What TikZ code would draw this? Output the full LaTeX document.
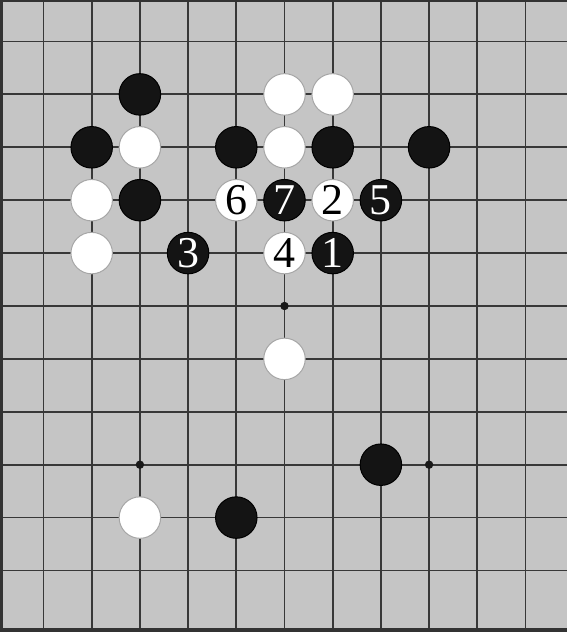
\documentclass[tikz,border=0pt]{standalone}
\usepackage{fontspec}
\setmainfont{Liberation Serif}
\definecolor{boardgray}{HTML}{C5C5C5}
\definecolor{linegray}{HTML}{383838}
\definecolor{framegray}{HTML}{333333}
\tikzset{
  gridline/.style={line width=1.8pt, linegray},
  stone/.style={circle, minimum size=41.5pt, inner sep=0pt, font=\fontsize{44}{44}\selectfont},
  blackstone/.style={stone, fill=black!92, draw=black, line width=1pt, text=white},
  whitestone/.style={stone, fill=white, draw=gray!70, line width=1pt, text=black},
}
\begin{document}
\begin{tikzpicture}[x=48.2pt, y=-52.9pt]
    % Board corners
    \coordinate (tl) at (-0.9025,-0.7845);
    \coordinate (tr) at (10.861,-0.7845);
    \coordinate (bl) at (-0.9025,11.163);
    \coordinate (br) at (10.861,11.163);
    \useasboundingbox (tl) rectangle (br);
    \fill[boardgray] (tl) rectangle (br);

    % Grid lines
    \foreach \c in {0,...,10} \draw[gridline] (\c,-0.7845) -- (\c,11.163);
    \foreach \r in {0,...,10} \draw[gridline] (-0.9025,\r) -- (10.861,\r);

    % Frame (left, top, bottom)
    \draw[framegray, line width=3pt] ([xshift=1.5pt]bl) -- ([xshift=1.5pt]tl);
    \draw[framegray, line width=2pt] ([yshift=-1pt]tl) -- ([yshift=-1pt]tr);
    \draw[framegray, line width=4pt] ([yshift=2pt]bl) -- ([yshift=2pt]br);

    % Star points
    \fill[black!90] (5,5) circle (4.2pt);
    \fill[black!90] (2,8) circle (4.2pt);
    \fill[black!90] (8,8) circle (4.2pt);

    % Black stones
    \node[blackstone] (b21) at (2,1) {};
    \node[blackstone] (b12) at (1,2) {};
    \node[blackstone] (b42) at (4,2) {};
    \node[blackstone] (b62) at (6,2) {};
    \node[blackstone] (b82) at (8,2) {};
    \node[blackstone] (b23) at (2,3) {};
    \node[blackstone] (b78) at (7,8) {};
    \node[blackstone] (b49) at (4,9) {};

    % White stones
    \node[whitestone] (w51) at (5,1) {};
    \node[whitestone] (w61) at (6,1) {};
    \node[whitestone] (w22) at (2,2) {};
    \node[whitestone] (w52) at (5,2) {};
    \node[whitestone] (w13) at (1,3) {};
    \node[whitestone] (w14) at (1,4) {};
    \node[whitestone] (w56) at (5,6) {};
    \node[whitestone] (w29) at (2,9) {};

    % Numbered moves
    \node[blackstone] (m1) at (6,4) {1};
    \node[whitestone] (m2) at (6,3) {2};
    \node[blackstone] (m3) at (3,4) {3};
    \node[whitestone] (m4) at (5,4) {4};
    \node[blackstone] (m5) at (7,3) {5};
    \node[whitestone] (m6) at (4,3) {6};
    \node[blackstone] (m7) at (5,3) {7};
\end{tikzpicture}
\end{document}
